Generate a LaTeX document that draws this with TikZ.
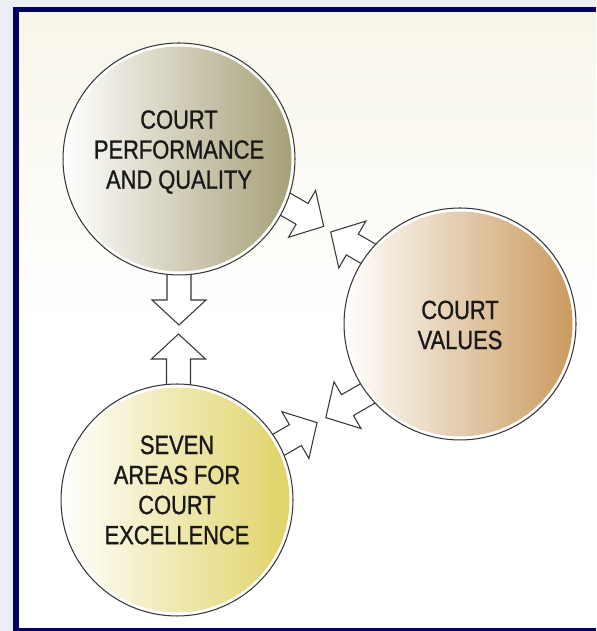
\documentclass[tikz,border=0pt]{standalone}
\usepackage{fontspec}
\newfontfamily\courtfont{Liberation Sans}[FakeStretch=0.83, FakeBold=1]

\pgfdeclarelayer{back}
\pgfdeclarelayer{under}
\pgfsetlayers{back,under,main}

\definecolor{framenavy}{RGB}{2,2,102}
\definecolor{pagebg}{RGB}{236,239,246}
\definecolor{cream}{RGB}{248,246,234}
\definecolor{perfcol}{RGB}{165,158,118}
\definecolor{valuecol}{RGB}{201,153,92}
\definecolor{areacol}{RGB}{223,210,100}
\definecolor{rim}{RGB}{55,55,55}

\tikzset{
  disc/.style={circle, minimum size=4.64cm, inner sep=0pt, draw=rim, line width=0.6pt, fill=white,
    path picture={\shade[left color=white, right color=#1] (path picture bounding box.center) circle (2.25cm);}},
  disctext/.style={font=\courtfont\fontsize{15}{17.1}\selectfont, align=center, text=black!90},
  blockarrow/.style={draw=rim, line width=0.6pt, fill=white, line join=miter}
}

% hollow arrow out of a circle: node, angle, side offset, tip distance
\newcommand\courtarrow[4]{%
  \begin{scope}[shift={(#1.center)}, rotate=#2]
    \draw[blockarrow] (100,#3-12) -- (#4-25,#3-12) -- (#4-25,#3-27) -- (#4,#3)
      -- (#4-25,#3+27) -- (#4-25,#3+12) -- (100,#3+12) -- cycle;
  \end{scope}}

\begin{document}
\begin{tikzpicture}[x=0.02cm, y=0.02cm]
  \useasboundingbox (0,0) rectangle (596,631);

  % page, navy frame and panel
  \begin{pgfonlayer}{back}
    \fill[pagebg] (0,0) rectangle (596,631);
    \fill[framenavy] (12.7,0) rectangle (596,624.3);
    \fill[white] (19,3) rectangle (596,618.3);
    \shade[top color=cream, bottom color=white] (19,300) rectangle (596,618.3);
  \end{pgfonlayer}

  % the three circles
  \node[disc=perfcol] (perf) at (179,472) {};
  \node[disc=valuecol] (values) at (460,307) {};
  \node[disc=areacol] (areas) at (177,131) {};

  \node[disctext] (perfText) at ([yshift=0.14cm]perf.center) {COURT\\PERFORMANCE\\AND QUALITY};
  \node[disctext] (valuesText) at ([yshift=-0.02cm]values.center) {COURT\\VALUES};
  \node[disctext] (areasText) at ([yshift=0.2cm]areas.center) {SEVEN\\AREAS FOR\\COURT\\EXCELLENCE};

  % arrows between them
  \begin{pgfonlayer}{under}
    \courtarrow{perf}{-90}{0}{166}
    \courtarrow{areas}{90}{-1.5}{166}
    \courtarrow{perf}{-30}{14}{159}
    \courtarrow{values}{150}{-15}{158}
    \courtarrow{areas}{30}{-3}{160}
    \courtarrow{values}{210}{14}{163}
  \end{pgfonlayer}
\end{tikzpicture}
\end{document}
